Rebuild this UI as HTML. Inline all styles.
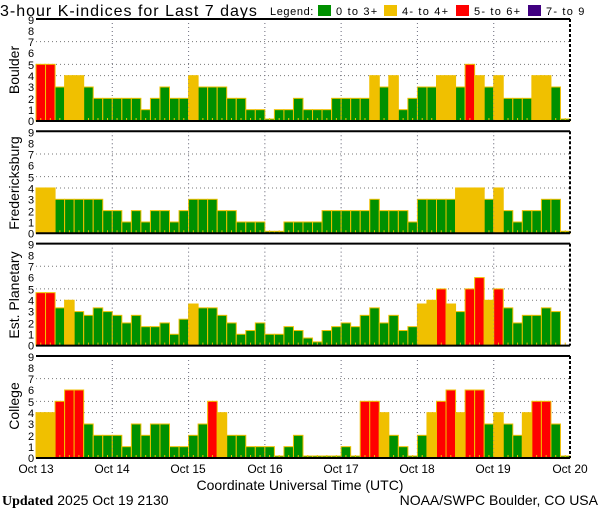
<!DOCTYPE html>
<html><head><meta charset="utf-8"><style>
html,body{margin:0;padding:0;background:#fff;width:600px;height:510px;overflow:hidden}
svg{display:block;font-family:"Liberation Sans",sans-serif}
</style></head><body>
<svg id="s" width="600" height="510" xmlns="http://www.w3.org/2000/svg">
<rect width="600" height="510" fill="#fff"/>
<text x="0" y="16" font-size="16" letter-spacing="1" fill="#000">3-hour K-indices for Last 7 days</text>
<text x="270" y="15" font-size="11" letter-spacing="0.6" fill="#000">Legend:</text>
<rect x="318" y="5" width="13" height="11" fill="#009000"/>
<text x="336" y="15" font-size="11" letter-spacing="1.2">0 to 3+</text>
<rect x="384" y="5" width="13" height="11" fill="#f0c000"/>
<text x="402" y="15" font-size="11" letter-spacing="1.2">4- to 4+</text>
<rect x="456" y="5" width="13" height="11" fill="#ff0000"/>
<text x="474" y="15" font-size="11" letter-spacing="1.2">5- to 6+</text>
<rect x="528" y="5" width="13" height="11" fill="#400080"/>
<text x="546" y="15" font-size="11" letter-spacing="1.2">7- to 9</text>
<g id="bars"></g>
<g font-size="14" text-anchor="middle">
<text transform="translate(19,70) rotate(-90)">Boulder</text>
<text transform="translate(19,183) rotate(-90)">Fredericksburg</text>
<text transform="translate(19,295) rotate(-90)">Est. Planetary</text>
<text transform="translate(19,406) rotate(-90)">College</text>
</g>
<g font-size="11" text-anchor="middle" id="ylab">
<g transform="translate(0,0)"><text x="31" y="125">0</text><text x="31" y="114">1</text><text x="31" y="103">2</text><text x="31" y="91">3</text><text x="31" y="80">4</text><text x="31" y="69">5</text><text x="31" y="57">6</text><text x="31" y="46">7</text><text x="31" y="35">8</text><text x="31" y="24">9</text></g>
<g transform="translate(0,112.3)"><text x="31" y="125">0</text><text x="31" y="114">1</text><text x="31" y="103">2</text><text x="31" y="91">3</text><text x="31" y="80">4</text><text x="31" y="69">5</text><text x="31" y="57">6</text><text x="31" y="46">7</text><text x="31" y="35">8</text><text x="31" y="24">9</text></g>
<g transform="translate(0,224.6)"><text x="31" y="125">0</text><text x="31" y="114">1</text><text x="31" y="103">2</text><text x="31" y="91">3</text><text x="31" y="80">4</text><text x="31" y="69">5</text><text x="31" y="57">6</text><text x="31" y="46">7</text><text x="31" y="35">8</text><text x="31" y="24">9</text></g>
<g transform="translate(0,337)"><text x="31" y="125">0</text><text x="31" y="114">1</text><text x="31" y="103">2</text><text x="31" y="91">3</text><text x="31" y="80">4</text><text x="31" y="69">5</text><text x="31" y="57">6</text><text x="31" y="46">7</text><text x="31" y="35">8</text><text x="31" y="24">9</text></g>
</g>
<g font-size="12" text-anchor="middle">
<text x="36" y="473">Oct 13</text><text x="112" y="473">Oct 14</text><text x="188" y="473">Oct 15</text><text x="265" y="473">Oct 16</text><text x="341" y="473">Oct 17</text><text x="417" y="473">Oct 18</text><text x="493" y="473">Oct 19</text><text x="570" y="473">Oct 20</text>
<text x="300" y="490" font-size="14">Coordinate Universal Time (UTC)</text>
</g>
<text x="2" y="505" font-size="14"><tspan font-family="Liberation Serif" font-weight="bold">Updated</tspan> 2025 Oct 19 2130</text>
<text x="598" y="505" font-size="14" text-anchor="end">NOAA/SWPC Boulder, CO USA</text>
</svg>
<script>
var D=[
[5,5,3,4,4,3,2,2, 2,2,2,1,2,3,2,2, 4,3,3,3,2,2,1,1, 0,1,1,2,1,1,1,2, 2,2,2,4,3,4,1,2, 3,3,4,4,3,5,4,3, 4,2,2,2,4,4,3,0],
[4,4,3,3,3,3,3,2, 2,1,2,1,2,2,1,2, 3,3,3,2,2,1,1,1, 0,0,1,1,1,1,2,2, 2,2,2,3,2,2,2,1, 3,3,3,3,4,4,4,3, 4,2,1,2,2,3,3,0],
[4.67,4.67,3.33,4,3,2.67,3.33,3, 2.67,2,2.67,1.67,1.67,2,1,2.33, 3.67,3.33,3.33,2.67,2,1,1.33,2, 1,1,1.67,1.33,0.67,0.33,1.33,1.67, 2,1.67,2.67,3.33,2,2.67,1.33,1.67, 3.67,4,5,3.67,3,5,6,4, 5,3.33,2,2.67,2.67,3.33,3,-1],
[4,4,5,6,6,3,2,2, 2,1,3,2,3,3,1,1, 2,3,5,4,2,2,1,1, 1,0,1,2,0,0,0,0, 1,0,5,5,4,2,1,0, 2,4,5,6,4,6,6,3, 4,3,2,4,5,5,3,0]];
var T=[19,131.3,243.6,356],H=102,u=H/9,L=36,R=570,bw=(R-L)/56;
var o='';
function col(v){return v>=6.5?'#400080':v>=4.5?'#ff0000':v>=3.5?'#f0c000':'#009000';}
for(var p=0;p<4;p++){
 var t=T[p],b=t+H;
 [4,5,7].forEach(function(l){var y=b-l*u;o+='<line x1="'+L+'" x2="'+R+'" y1="'+y+'" y2="'+y+'" stroke="#777" stroke-dasharray="1,3"/>';});
 for(var d=1;d<7;d++){var x=L+d*8*bw;o+='<line x1="'+x+'" x2="'+x+'" y1="'+t+'" y2="'+b+'" stroke="#777" stroke-dasharray="1,3"/>';}
 for(var k=0;k<56;k++){
  var v=D[p][k],x=L+k*bw;
  if(v>=0){var h=v==0?2:v*u;
   o+='<rect x="'+x.toFixed(2)+'" y="'+(b-h).toFixed(2)+'" width="'+bw.toFixed(2)+'" height="'+h.toFixed(2)+'" fill="'+col(v)+'" stroke="#f0c000" stroke-width="1"/>';}
  o+='<line x1="'+(x+bw/2)+'" x2="'+(x+bw/2)+'" y1="'+(b-3)+'" y2="'+b+'" stroke="#f0c000"/>';
 }
 for(var d=1;d<7;d++){var x=L+d*8*bw;o+='<line x1="'+x+'" x2="'+x+'" y1="'+t+'" y2="'+b+'" stroke="#779" stroke-opacity="0.5" stroke-dasharray="1,3"/>';}
 o+='<line x1="'+L+'" x2="'+R+'" y1="'+t+'" y2="'+t+'" stroke="#000" stroke-width="2"/>';
 o+='<line x1="'+L+'" x2="'+R+'" y1="'+b+'" y2="'+b+'" stroke="#000" stroke-width="2"/>';
 o+='<line x1="'+R+'" x2="'+R+'" y1="'+t+'" y2="'+b+'" stroke="#000" stroke-width="2" stroke-dasharray="3,2"/>';
}
document.getElementById('bars').innerHTML=o;
</script>
</body></html>
